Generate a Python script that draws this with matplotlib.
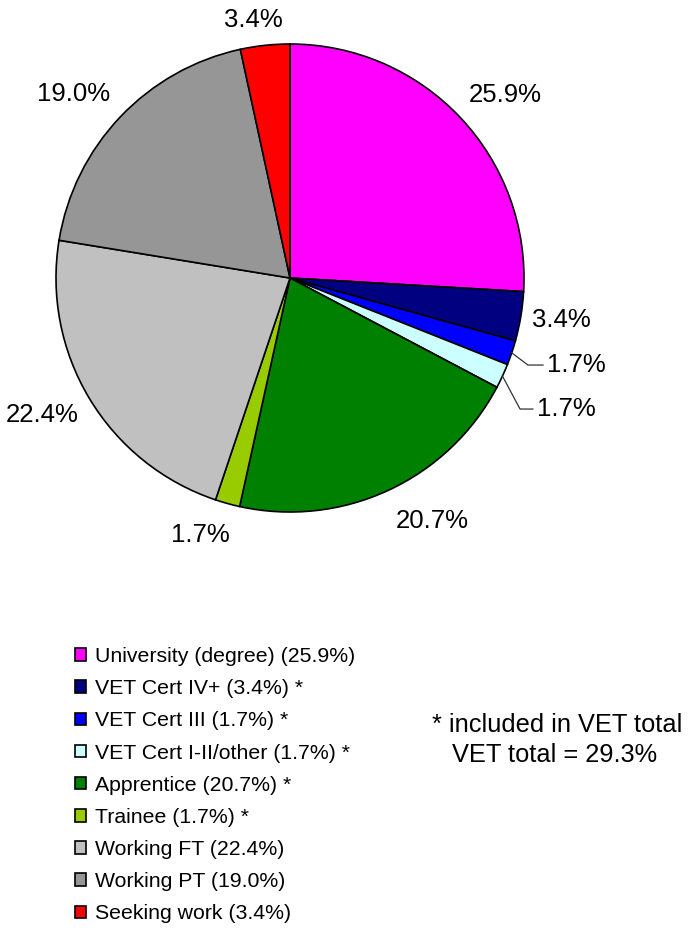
import matplotlib
matplotlib.use("Agg")
import matplotlib.pyplot as plt
import numpy as np

plt.rcParams['font.family'] = ['Liberation Sans', 'DejaVu Sans']

categories = ["University (degree)", "VET Cert IV+", "VET Cert III", "VET Cert I-II/other",
              "Apprentice", "Trainee", "Working FT", "Working PT", "Seeking work"]
values = [25.9, 3.4, 1.7, 1.7, 20.7, 1.7, 22.4, 19.0, 3.4]
in_vet = [False, True, True, True, True, True, False, False, False]
colors = ["#FF00FF", "#000080", "#0000FF", "#CCFFFF", "#008000", "#99CC00",
          "#C0C0C0", "#969696", "#FF0000"]
vet_total = 29.3

W, H = 689, 935
fig = plt.figure(figsize=(W / 100, H / 100), dpi=100)

cx, cy, R = 290, 278, 234
ax = fig.add_axes([(cx - R) / W, 1 - (cy + R) / H, 2 * R / W, 2 * R / H])

wedges, _ = ax.pie(values, colors=colors, startangle=90, counterclock=False,
                   radius=1, normalize=True,
                   wedgeprops=dict(edgecolor='black', linewidth=1.2))
ax.set_xlim(-1, 1)
ax.set_ylim(-1, 1)
ax.set_aspect('equal')
ax.axis('off')

# label placements (in pie-radius units)
label_pos = [(0.919, 0.782), (1.158, -0.179), (1.10, -0.372), (1.056, -0.560),
             (0.607, -1.038), (-0.385, -1.098), (-1.060, -0.585), (-0.927, 0.786),
             (-0.158, 1.103)]
leader = {2: [(1.017, -0.372), (1.081, -0.372)],
          3: [(0.983, -0.560), (1.038, -0.560)]}

fs_lab = 18.5
for i, (w, v) in enumerate(zip(wedges, values)):
    x, y = label_pos[i]
    txt = f"{v:.1f}%"
    if i in leader:
        mid = np.deg2rad((w.theta1 + w.theta2) / 2)
        pts = [(np.cos(mid), np.sin(mid))] + leader[i]
        ax.plot([p[0] for p in pts], [p[1] for p in pts], color='#333333', lw=0.9,
                clip_on=False)
        ax.text(x, y, txt, ha='left', va='center', fontsize=fs_lab, clip_on=False)
    else:
        ax.text(x, y, txt, ha='center', va='center', fontsize=fs_lab, clip_on=False)

labels = [f"{c} ({v:.1f}%)" + (" *" if s else "") for c, v, s in zip(categories, values, in_vet)]
leg = fig.legend(wedges, labels, loc='upper left', bbox_to_anchor=(75 / W, 1 - 647 / H),
                 frameon=False, fontsize=15.3, handlelength=0.52, handleheight=0.52,
                 handletextpad=0.42, labelspacing=0.62, borderpad=0, borderaxespad=0)

fig.text(557 / W, 1 - 725 / H, "* included in VET total", ha='center', va='center', fontsize=18.3)
fig.text(555 / W, 1 - 755 / H, f"VET total = {vet_total:.1f}%", ha='center', va='center', fontsize=18.3)

fig.savefig("out.png", dpi=100)
